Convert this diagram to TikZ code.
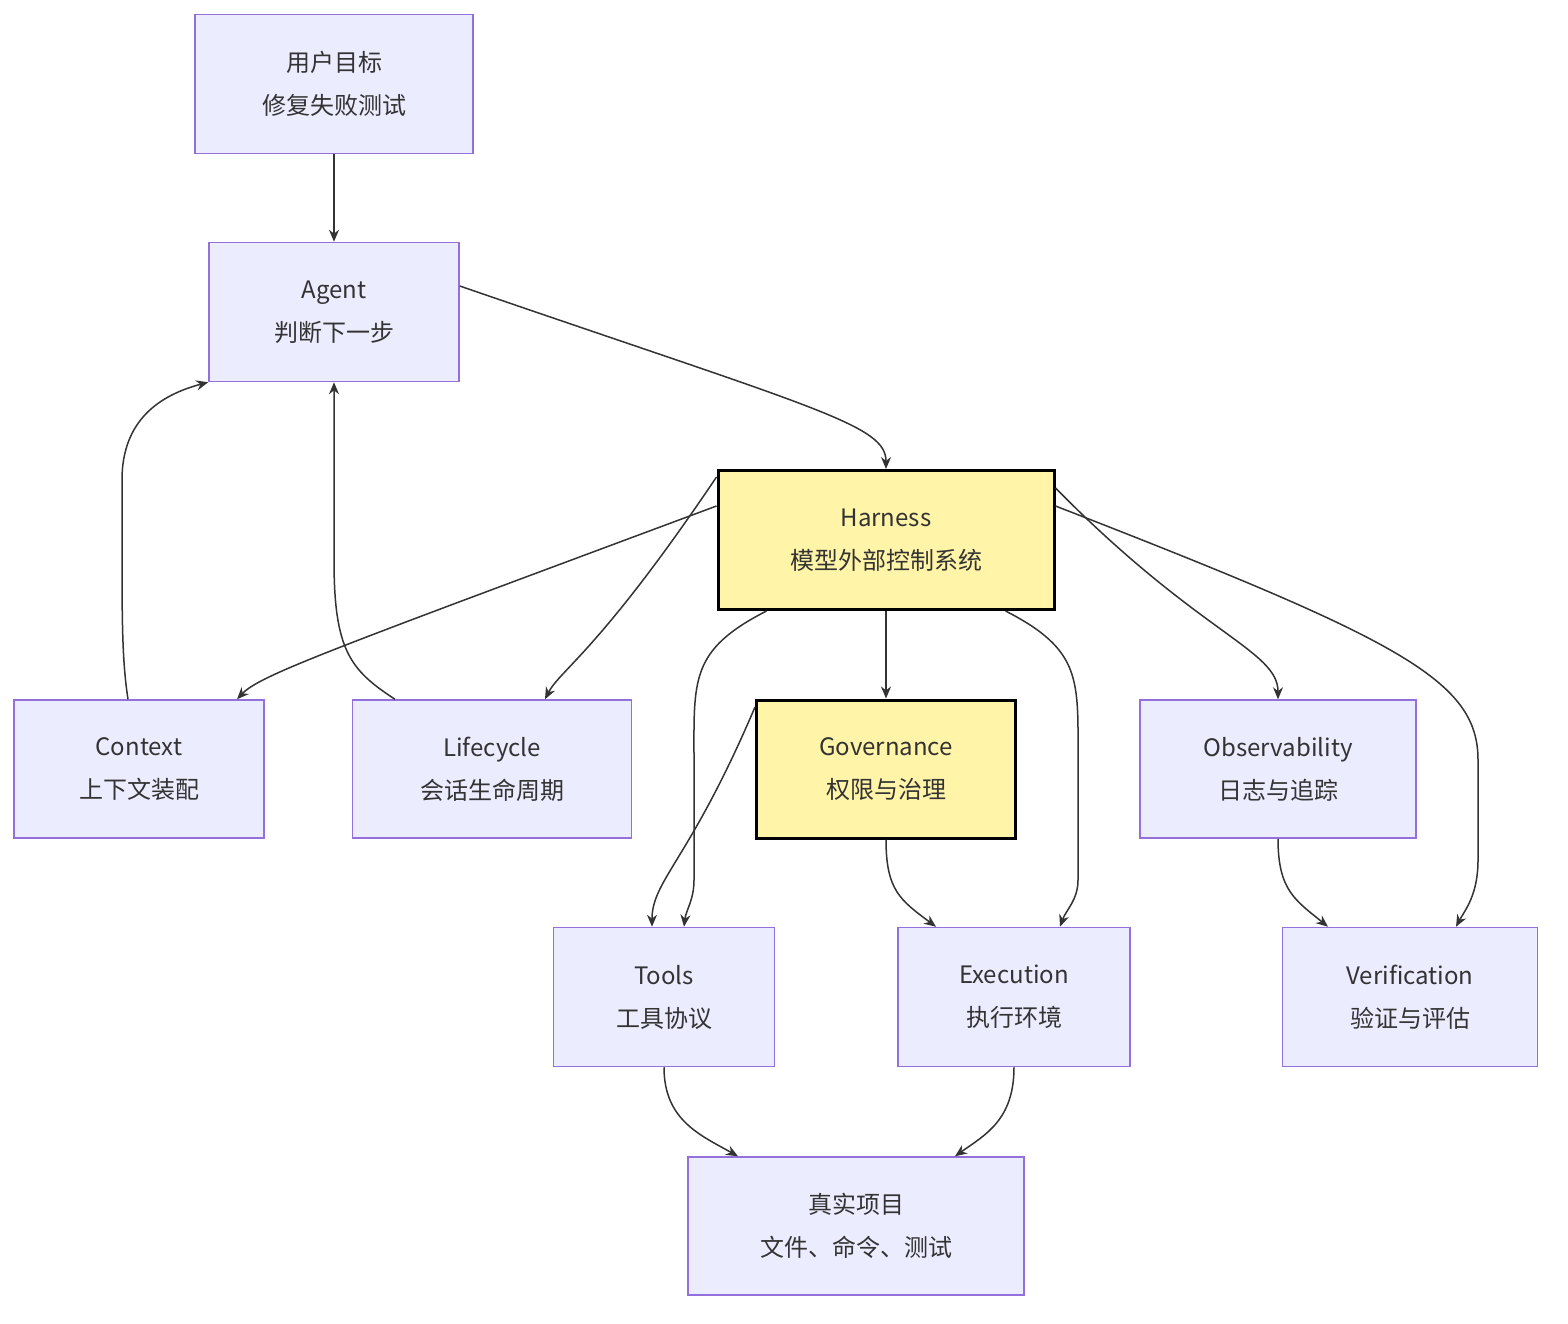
\documentclass[tikz,border=0pt]{standalone}
\usepackage{fontspec}
\setmainfont{Noto Sans CJK SC}
\usetikzlibrary{arrows.meta,calc}
\definecolor{bfill}{HTML}{ECECFF}
\definecolor{bdraw}{HTML}{9370DB}
\definecolor{yfill}{HTML}{FFF4A8}
\definecolor{ln}{HTML}{333333}
\begin{document}
\begin{tikzpicture}[x=1pt,y=-1pt,
 box/.style={draw=bdraw,fill=bfill,line width=1.5pt,align=center,font=\fontsize{24}{43}\selectfont,text=ln,inner sep=0pt},
 ybox/.style={box,draw=black,fill=yfill,line width=3pt},
 ar/.style={draw=ln,line width=1.5pt,-{Stealth[length=12pt,width=10pt]}}]
\useasboundingbox (0,0) rectangle (1568,1324);
\node[box,minimum width=278,minimum height=139] (goal) at (334,84) {用户目标\\修复失败测试};
\node[box,minimum width=250,minimum height=139] (agent) at (334,312) {Agent\\判断下一步};
\node[ybox,minimum width=336,minimum height=139] (harness) at (886,540) {Harness\\模型外部控制系统};
\node[box,minimum width=250,minimum height=138] (context) at (139,769) {Context\\上下文装配};
\node[box,minimum width=279,minimum height=138] (life) at (492,769) {Lifecycle\\会话生命周期};
\node[ybox,minimum width=259,minimum height=138] (gov) at (886,769) {Governance\\权限与治理};
\node[box,minimum width=276,minimum height=138] (obs) at (1278,769) {Observability\\日志与追踪};
\node[box,minimum width=221,minimum height=139] (tools) at (664,997) {Tools\\工具协议};
\node[box,minimum width=232,minimum height=139] (exec) at (1014,997) {Execution\\执行环境};
\node[box,minimum width=255,minimum height=139] (ver) at (1410,997) {Verification\\验证与评估};
\node[box,minimum width=336,minimum height=138] (proj) at (856,1226) {真实项目\\文件、命令、测试};

\draw[ar] (goal) -- (agent);
\draw[ar] ([yshift=26]agent.east) .. controls (820,410) and (886,425) .. (harness.north);
\draw[ar] ([yshift=34]harness.west) .. controls (330,650) and (260,675) .. ([xshift=98]context.north);
\draw[ar] ([yshift=63]harness.west) .. controls (600,650) and (560,670) .. ([xshift=53]life.north);
\draw[ar] ([xshift=50]harness.south west) .. controls (690,650) and (694,680) .. (694,760) -- (694,880) .. controls (694,900) and (686,910) .. ([xshift=20]tools.north);
\draw[ar] (harness) -- (gov);
\draw[ar] ([xshift=-50]harness.south east) .. controls (1082,650) and (1078,680) .. (1078,760) -- (1078,880) .. controls (1078,900) and (1066,910) .. ([xshift=46]exec.north);
\draw[ar] ([yshift=52]harness.east) .. controls (1200,635) and (1278,650) .. (obs.north);
\draw[ar] ([yshift=34]harness.east) .. controls (1400,640) and (1478,680) .. (1478,760) -- (1478,860) .. controls (1478,895) and (1465,910) .. ([xshift=46]ver.north);
\draw[ar] ([yshift=62]gov.west) .. controls (690,860) and (652,880) .. ([xshift=-12]tools.north);
\draw[ar] (gov.south) .. controls (886,890) and (900,900) .. ([xshift=-78]exec.north);
\draw[ar] (obs.south) .. controls (1278,890) and (1295,900) .. ([xshift=-82]ver.north);
\draw[ar] ([xshift=-11]context.north) .. controls (122,660) and (122,620) .. (122,540) -- (122,480) .. controls (122,420) and (160,395) .. (agent.south west);
\draw[ar] ([xshift=-97]life.north) .. controls (350,670) and (334,650) .. (334,560) -- (agent.south);
\draw[ar] (tools.south) .. controls (664,1120) and (700,1135) .. ([xshift=-118]proj.north);
\draw[ar] (exec.south) .. controls (1014,1120) and (985,1135) .. ([xshift=99]proj.north);
\end{tikzpicture}
\end{document}
